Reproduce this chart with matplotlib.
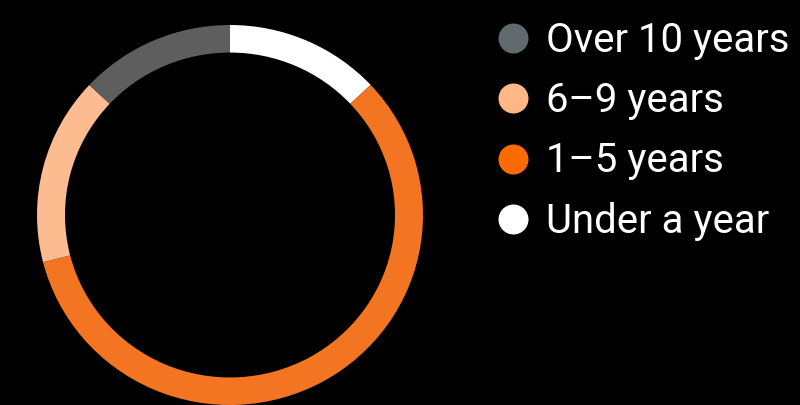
import matplotlib.pyplot as plt

plt.rcParams['font.family'] = ['Roboto', 'DejaVu Sans']

# tenure shares, clockwise from 12 o'clock
labels = ["Under a year", "1–5 years", "6–9 years", "Over 10 years"]
shares = [13, 58, 16, 13]
ring_colors = ["#ffffff", "#f47521", "#fdbb90", "#5e5e5e"]
legend_colors = ["#ffffff", "#fd6b00", "#ffb885", "#5f696e"]

W, H = 800, 406
fig = plt.figure(figsize=(W / 100, H / 100), dpi=100, facecolor="black")

# donut
ax = fig.add_axes([37 / W, 0 / H, 386 / W, 380 / H])
ax.set_facecolor("black")
ax.pie(shares, colors=ring_colors, startangle=90, counterclock=False,
       radius=1.0, wedgeprops=dict(width=0.145, linewidth=0))
ax.set_aspect("auto")
ax.set_xlim(-1, 1)
ax.set_ylim(-1, 1)
ax.axis("off")

# legend, drawn in pixel coordinates
lax = fig.add_axes([0, 0, 1, 1])
lax.set_xlim(0, W)
lax.set_ylim(H, 0)
lax.axis("off")
lax.patch.set_alpha(0)

y0, step = 39, 60.3
for i, (lab, col) in enumerate(zip(labels[::-1], legend_colors[::-1])):
    y = y0 + i * step
    lax.scatter([513], [y], s=(30 * 0.72) ** 2, color=col, linewidths=0)
    lax.text(546, y + 12.8, lab, color="white", fontsize=28.9,
             va="baseline", ha="left")

fig.savefig("out.png", dpi=100, facecolor="black")
